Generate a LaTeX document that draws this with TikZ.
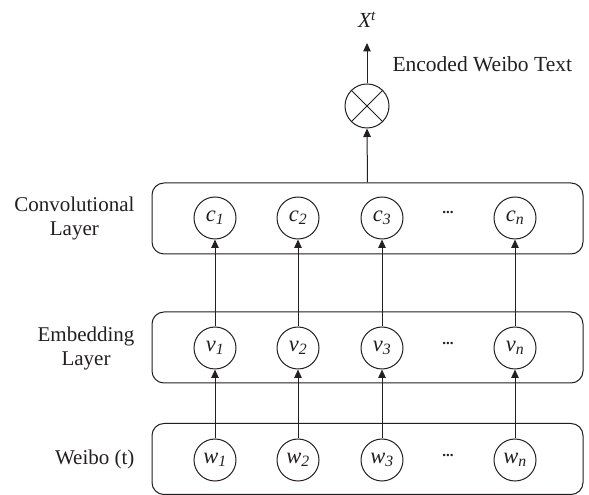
\documentclass[tikz,border=0pt]{standalone}
\usepackage{fontspec}
\setmainfont{Liberation Serif}
\usetikzlibrary{arrows.meta}
\definecolor{ink}{HTML}{231F20}

\tikzset{
  layerbox/.style={draw=ink,line width=1pt,rounded corners=12pt,minimum width=431pt,minimum height=71pt},
  unit/.style={draw=ink,line width=1pt,circle,minimum size=42pt,inner sep=0pt,font=\fontsize{22.5}{24}\selectfont\itshape},
  layername/.style={anchor=east,align=center,font=\fontsize{21}{24}\selectfont},
  flow/.style={draw=ink,line width=1pt,-{Triangle[length=8.5pt,width=7.5pt]}},
}
\newcommand{\unitlab}[2]{#1\textsubscript{#2}}

\begin{document}
\begin{tikzpicture}[x=1pt,y=1pt,text=ink]
  \useasboundingbox (0,0) rectangle (589,495);

  % the three layers
  \node[layerbox] (convbox) at (367.5,276.5) {};
  \node[layerbox] (embbox)  at (367.5,147.5) {};
  \node[layerbox] (wordbox) at (367.5,36) {};

  \node[layername] (convname) at (138,277) {Convolutional\\Layer};
  \node[layername] (embname)  at (138,147) {Embedding\\Layer};
  \node[layername] (wordname) at (138,36)  {Weibo (t)};

  % one column per word
  \foreach \i/\x in {1/215,2/298,3/382,n/515} {
    \node[unit] (w\i) at (\x,35)  {\unitlab{w}{\i}};
    \node[unit] (v\i) at (\x,147) {\unitlab{v}{\i}};
    \node[unit] (c\i) at (\x,277) {\unitlab{c}{\i}};
    \draw[flow] (w\i) -- (v\i);
    \draw[flow] (v\i) -- (c\i);
  }
  \foreach \r/\y in {w/35,v/147,c/277}
    \node (dots\r) at (448,\y+5) {\fontsize{15}{16}\selectfont\bfseries...};

  % pooling into the text vector
  \node[draw=ink,line width=1pt,circle,minimum size=44pt,inner sep=0pt] (ox) at (367,389) {};
  \draw[ink,line width=1pt] (ox.north west) -- (ox.south east) (ox.north east) -- (ox.south west);
  \draw[flow] (convbox.north) -- (ox.south);
  \node (xt) at (367,475) {\fontsize{21.5}{24}\selectfont\textit{X\textsuperscript{t}}};
  \coordinate (top) at (367,452);
  \draw[flow] (ox.north) -- (top);
  \node[anchor=west] (enc) at (389,431) {\fontsize{21.5}{24}\selectfont Encoded Weibo Text};
\end{tikzpicture}
\end{document}
